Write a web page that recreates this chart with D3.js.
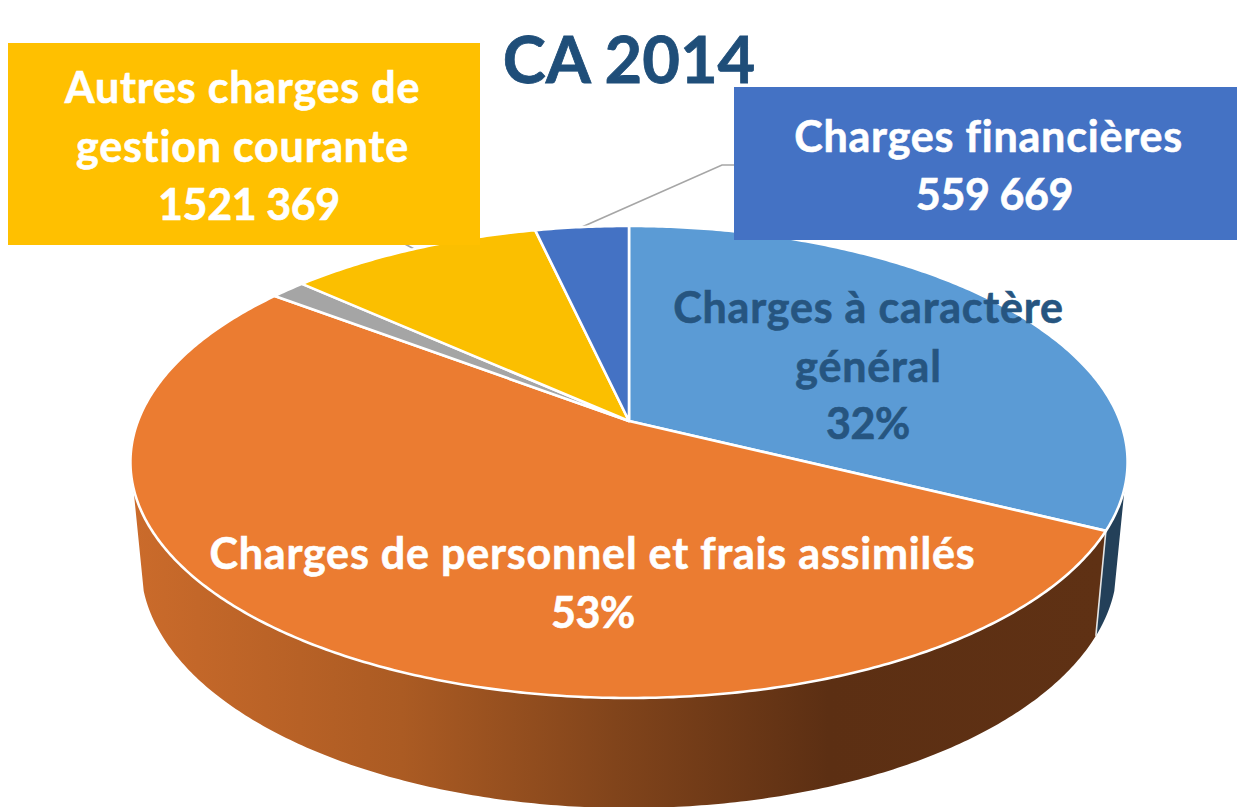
<!DOCTYPE html>
<html><head><meta charset="utf-8">
<script src="https://cdn.jsdelivr.net/npm/d3@7"></script>
<style>html,body{margin:0;padding:0;background:#fff;overflow:hidden}svg{display:block}text{font-family:Lato,"Noto Sans",sans-serif;font-weight:700;font-variant-ligatures:none}</style>
</head><body><div id="c"></div>
<script>
const categories = ["Charges à caractère général","Charges de personnel et frais assimilés","Autres","Autres charges de gestion courante","Charges financières"];
const values = [5040000, 8270000, 210000, 1521369, 559669];
const colors = ["#5B9BD5","#EB7C31","#A5A5A5","#FBBF00","#4472C4"];
const sideColors = ["#234059","#c8692a"];
const titleText = "CA 2014";

const W=1237,H=807;
const svg=d3.select("#c").append("svg").attr("width",W).attr("height",H);
const cx=629, cy=421, b=491, a=228.9, k=-0.1737;
const botCy=522.7, botSx=0.979, botSy=1.03;
const proj=(t,top=true)=>{const x=Math.sin(t),y=-Math.cos(t),w=1+k*y;
  return top?[cx+b*x/w,cy+a*y/w]:[cx+botSx*b*x/w,botCy+botSy*a*y/w];};
const arcPts=(t0,t1,top=true)=>{const n=Math.max(2,Math.ceil(Math.abs(t1-t0)/0.01));
  return d3.range(n+1).map(i=>proj(t0+(t1-t0)*i/n,top));};
const line=d3.line();
const pie=d3.pie().sort(null)(values);

const defs=svg.append("defs");
const grad=defs.append("linearGradient").attr("id","sideGrad").attr("gradientUnits","userSpaceOnUse")
  .attr("x1",130).attr("x2",1100).attr("y1",0).attr("y2",0);
[[0,"#cb6b2b"],[0.28,"#ab5b23"],[0.5,"#81441b"],[0.72,"#5c2f13"],[1,"#5f3114"]].forEach(s=>grad.append("stop").attr("offset",s[0]).attr("stop-color",s[1]));

const rad=d=>d*Math.PI/180;
const sideStart=rad(106), sideEnd=rad(254);
const p0=pie[0].endAngle;
// sides
svg.append("path").attr("d",line([...arcPts(sideStart,p0),...arcPts(p0,sideStart,false)])+"Z")
  .attr("fill",sideColors[0]).attr("stroke","none");
svg.append("path").attr("d",line([...arcPts(p0,sideEnd),...arcPts(sideEnd,p0,false)])+"Z")
  .attr("fill","url(#sideGrad)").attr("stroke","none");
svg.append("path").attr("d",line([proj(p0),proj(p0,false)])).attr("stroke","#e4e4e4").attr("stroke-width",1.6).attr("fill","none");

// leader lines
const mid=(d,f)=>proj(d.startAngle+(d.endAngle-d.startAngle)*f);
svg.append("path").attr("d",line([mid(pie[4],0.5),[722,165],[734,165]])).attr("fill","none").attr("stroke","#A6A6A6").attr("stroke-width",1.7);
svg.append("path").attr("d",line([[403,243],[416,250]])).attr("fill","none").attr("stroke","#A6A6A6").attr("stroke-width",1.7);

// top slices
svg.selectAll("path.slice").data(pie).join("path").attr("class","slice")
  .attr("d",d=>line([[cx,cy],...arcPts(d.startAngle,d.endAngle)])+"Z")
  .attr("fill",(d,i)=>colors[i]).attr("stroke","#fff").attr("stroke-width",2.6).attr("stroke-linejoin","round");

// title
svg.append("text").attr("x",629).attr("y",83).attr("text-anchor","middle").attr("font-size",65).attr("fill","#1F4E79").attr("stroke","#1F4E79").attr("stroke-width",0.8).text(titleText);

// boxes
const boxes=[{x:8,y:43,w:472,h:202,fill:"#FFC000"},{x:734,y:87,w:503,h:153,fill:"#4472C4"}];
svg.selectAll("rect.box").data(boxes).join("rect").attr("class","box").attr("x",d=>d.x).attr("y",d=>d.y).attr("width",d=>d.w).attr("height",d=>d.h).attr("fill",d=>d.fill);

// labels
const pct=d3.format(".0%"), total=d3.sum(values);
const lab=[
 {x:[242.5,242.5,249],y:[103,162,220],t:["Autres charges de","gestion courante","1521 369"],f:"#fff"},
 {x:[988.5,994.5],y:[152,210],t:["Charges financières","559 669"],f:"#fff"},
 {x:[868.5,868.5,868],y:[323,382,439],t:["Charges à caractère","général",pct(values[0]/total)],f:"#265580"},
 {x:[592.5,593],y:[569,628],t:["Charges de personnel et frais assimilés",pct(values[1]/total)],f:"#fff"}
];
const isNumeric=t=>/^[\d\s%]+$/.test(t);
lab.forEach(l=>l.t.forEach((t,i)=>svg.append("text").attr("x",l.x[i]).attr("y",l.y[i]).attr("text-anchor","middle")
  .attr("font-size",43).attr("letter-spacing",isNumeric(t)?-0.4:0.8).attr("fill",l.f).attr("stroke",l.f).attr("stroke-width",0.6).text(t)));
</script></body></html>
